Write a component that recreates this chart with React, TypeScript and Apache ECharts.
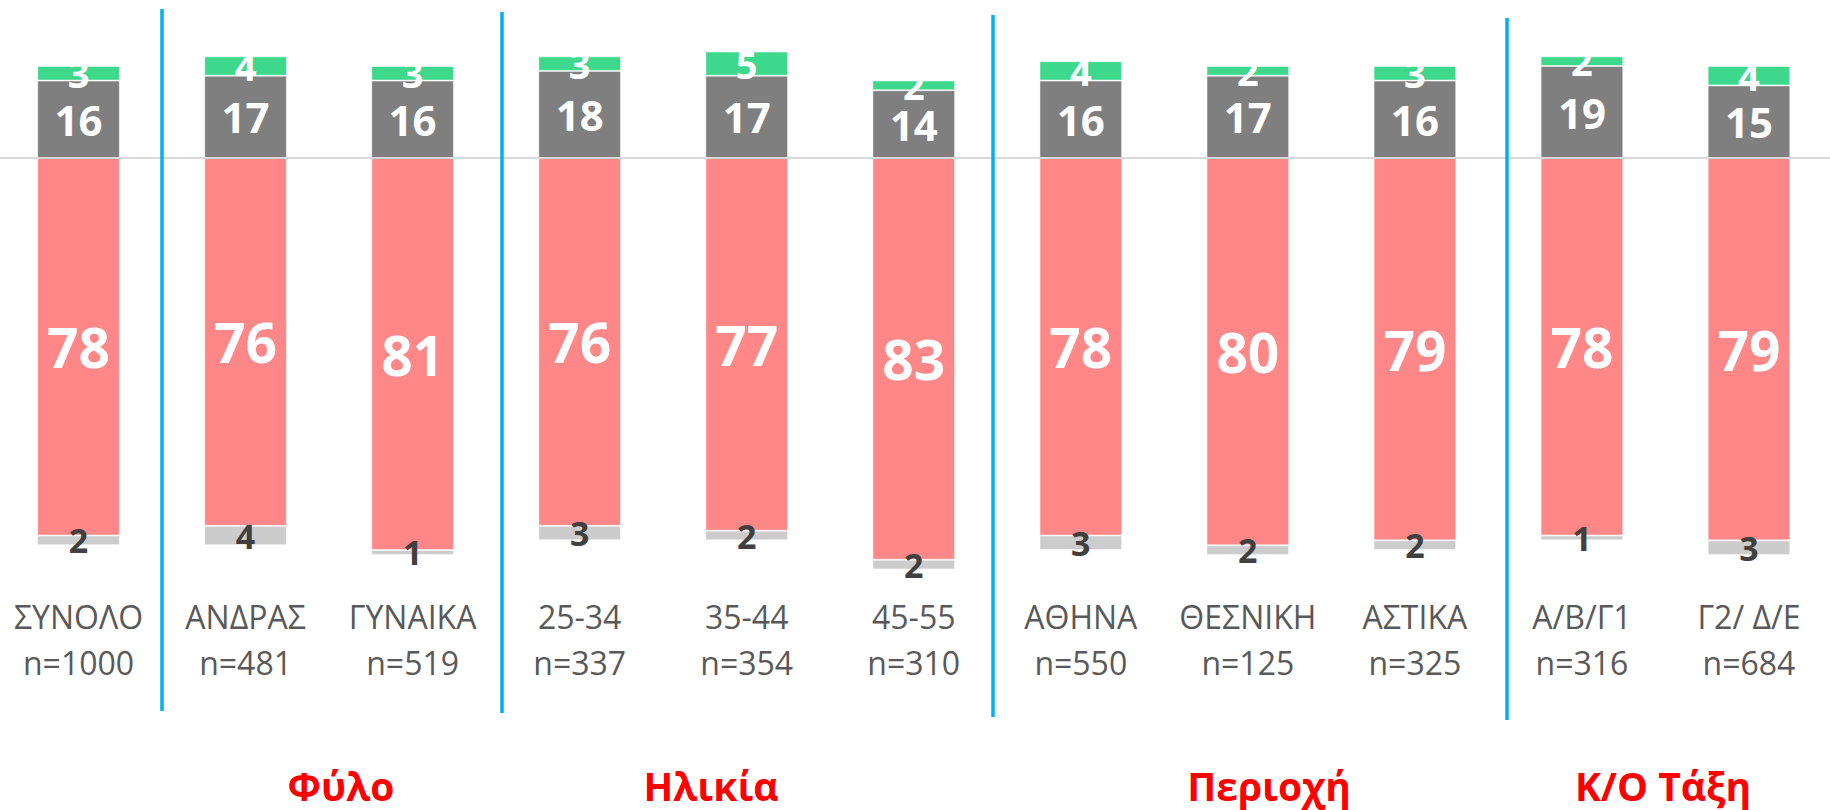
import React, { useEffect, useRef } from "react";
import * as echarts from "echarts";

const categories = ["ΣΥΝΟΛΟ", "ΑΝΔΡΑΣ", "ΓΥΝΑΙΚΑ", "25-34", "35-44", "45-55", "ΑΘΗΝΑ", "ΘΕΣΝΙΚΗ", "ΑΣΤΙΚΑ", "Α/Β/Γ1", "Γ2/ Δ/Ε"];
const sampleSizes = ["n=1000", "n=481", "n=519", "n=337", "n=354", "n=310", "n=550", "n=125", "n=325", "n=316", "n=684"];
const grayValues = [16, 17, 16, 18, 17, 14, 16, 17, 16, 19, 15];
const greenValues = [3, 4, 3, 3, 5, 2, 4, 2, 3, 2, 4];
const redValues = [78, 76, 81, 76, 77, 83, 78, 80, 79, 78, 79];
const lightGrayValues = [2, 4, 1, 3, 2, 2, 3, 2, 2, 1, 3];
const groupTitles = ["Φύλο", "Ηλικία", "Περιοχή", "Κ/Ο Τάξη"];

const FONT = "'Open Sans', 'Noto Sans', sans-serif";
const OFFSET = 5;

export default function App() {
  const ref = useRef<HTMLDivElement>(null);
  useEffect(() => {
    if (!ref.current) return;
    const chart = echarts.init(ref.current, null, { renderer: "svg" });
    const sepX = [162, 502, 993, 1507];
    const sepTop = [9, 12, 15, 18];
    const sepBottom = [711, 713, 717, 720];
    const titleX = [341, 711, 1269, 1663];
    const absFmt = (p: any) => String(Math.abs(p.value));
    const barBorder = { borderColor: "rgba(255,255,255,0.5)", borderWidth: 1 };
    chart.setOption({
      animation: false,
      grid: { left: 0, right: 0.5, top: 12.8, bottom: 216.4 },
      xAxis: {
        type: "category",
        data: categories,
        axisLine: { show: false },
        axisTick: { show: false },
        axisLabel: {
          margin: 0,
          interval: 0,
          color: "#595959",
          fontFamily: FONT,
          fontSize: 32,
          lineHeight: 46,
          formatter: (v: string, i: number) => v + "\n" + sampleSizes[i],
        },
      },
      yAxis: {
        type: "value",
        min: -90,
        max: 30,
        show: false,
        splitLine: { show: false },
      },
      series: [
        {
          type: "bar",
          stack: "s",
          barWidth: "49.5%",
          data: grayValues,
          itemStyle: { color: "#7f7f7f", ...barBorder },
          label: { show: true, position: "inside", color: "#fff", fontFamily: FONT, fontSize: 42, fontWeight: "bold", formatter: absFmt },
        },
        {
          type: "bar",
          stack: "s",
          data: greenValues,
          itemStyle: { color: "#3dd88c", ...barBorder },
          label: { show: true, position: "inside", color: "#fff", fontFamily: FONT, fontSize: 38, fontWeight: "bold", formatter: absFmt },
        },
        {
          type: "bar",
          stack: "s",
          data: redValues.map((v) => -v),
          itemStyle: { color: "#ff8787", ...barBorder },
          label: { show: true, position: "inside", color: "#fff", fontFamily: FONT, fontSize: 55, fontWeight: "bold", formatter: absFmt },
          markLine: {
            silent: true,
            symbol: "none",
            label: { show: false },
            lineStyle: { color: "#d9d9d9", width: 2, type: "solid" },
            data: [{ yAxis: 0 }],
          },
        },
        {
          type: "bar",
          stack: "s",
          data: lightGrayValues.map((v) => -v),
          itemStyle: { color: "#cccccc", ...barBorder },
          label: { show: true, position: "inside", color: "#404040", fontFamily: FONT, fontSize: 34, fontWeight: "bold", formatter: absFmt },
        },
      ],
      graphic: [
        ...sepX.map((x, i) => ({
          type: "line",
          shape: { x1: x + OFFSET, y1: sepTop[i], x2: x + OFFSET, y2: sepBottom[i] },
          style: { stroke: "#00b0f0", lineWidth: 3.5 },
          z: 10,
        })),
        ...groupTitles.map((t, i) => ({
          type: "text",
          x: titleX[i] + OFFSET,
          y: 785,
          style: {
            text: t,
            fill: "#ff0000",
            font: `bold 39px ${FONT}`,
            textAlign: "center",
            textVerticalAlign: "middle",
          },
        })),
      ],
    });
    return () => chart.dispose();
  }, []);
  return <div ref={ref} style={{ position: "absolute", left: -OFFSET, top: 0, width: 1838, height: 810 }} />;
}
